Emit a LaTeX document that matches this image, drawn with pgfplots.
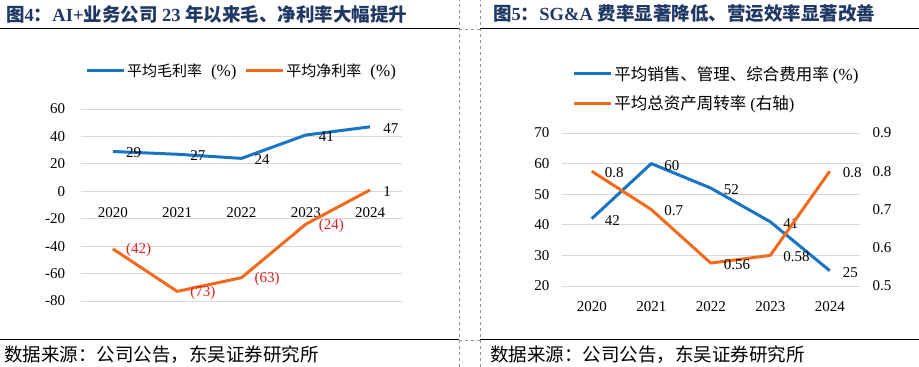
\documentclass[border=0pt]{standalone}
\usepackage{pgfplots}
\pgfplotsset{compat=1.18}
\usepackage{pgfplotstable}
\usepackage{fontspec}
\setmainfont{Liberation Serif}
\newfontfamily\cjk{Noto Sans CJK SC}
\definecolor{lblue}{RGB}{24,116,197}
\definecolor{lorange}{RGB}{242,106,27}
\definecolor{lred}{RGB}{224,32,31}
\definecolor{navy}{RGB}{32,56,100}
\definecolor{gridgray}{RGB}{217,217,217}
\definecolor{dashgray}{RGB}{150,150,150}

\pgfplotstableread{
x y lab
0 29 29
1 27 27
2 24 24
3 41 41
4 47 47
}\gross
\pgfplotstableread{
x y lab
0 -42 (42)
1 -73 (73)
2 -63 (63)
3 -24 (24)
4 1 1
}\net
\pgfplotstableread{
x y lab
0 42 42
1 60 60
2 52 52
3 41 41
4 25 25
}\sga
\pgfplotstableread{
x y lab
0 0.80 0.8
1 0.70 0.7
2 0.56 0.56
3 0.58 0.58
4 0.80 0.8
}\turn

\pgfplotsset{
  lbl/.style={every node near coord/.append style={anchor=west, xshift=12pt, yshift=-1.5pt, inner sep=1pt, font=\fontsize{15}{15}\selectfont, text=black}},
  common/.style={
    scale only axis, clip=false,
    xmin=-0.5, xmax=4.5,
    xtick={0,1,2,3,4}, xticklabels={2020,2021,2022,2023,2024},
    axis line style={draw=none},
    major tick length=0pt,
    tick label style={font=\fontsize{15}{15}\selectfont},
    /pgf/number format/assume math mode=true,
    legend image code/.code={\draw[##1, line width=3pt] (0pt,0pt) -- (37pt,0pt);},
  },
}

\begin{document}
\begin{tikzpicture}[x=1pt,y=1pt]
\useasboundingbox (0pt,0pt) rectangle (919pt,367pt);

% frame lines
\draw[dashgray, dashed, line width=0.6pt] (459,0) -- (459,367);
\draw[dashgray, dashed, line width=0.6pt] (480,0) -- (480,367);
\draw[black, line width=1pt] (0,338) -- (459,338);
\draw[black, line width=1pt] (480,338) -- (919,338);
\draw[dashgray, dashed, line width=0.6pt] (459,338) -- (480,338);
\draw[black, line width=1pt] (0,27) -- (459,27);
\draw[black, line width=1pt] (480,27) -- (919,27);
\draw[dashgray, dashed, line width=0.6pt] (459,27) -- (480,27);

% titles
\node[anchor=west, text=navy, font=\fontsize{18.5}{18.5}\selectfont\bfseries, inner sep=0pt] at (6,353)
  {{\cjk 图}4{\cjk ：}AI+{\cjk 业务公司} 23 {\cjk 年以来毛、净利率大幅提升}};
\node[anchor=west, text=navy, font=\fontsize{18.5}{18.5}\selectfont\bfseries, inner sep=0pt] at (493,353)
  {{\cjk 图}5{\cjk ：}SG\&A {\cjk 费率显著降低、营运效率显著改善}};

% sources
\node[anchor=west, font=\fontsize{18.5}{18.5}\selectfont\cjk, inner sep=0pt] at (4,12) {数据来源：公司公告，东吴证券研究所};
\node[anchor=west, font=\fontsize{18.5}{18.5}\selectfont\cjk, inner sep=0pt] at (490,12) {数据来源：公司公告，东吴证券研究所};

% ---------- left chart ----------
\begin{axis}[common,
  at={(80.75pt,66pt)}, anchor=south west,
  width=321.5pt, height=192pt,
  ymin=-80, ymax=60, ytick={-80,-60,...,60},
  axis x line*=middle, axis y line*=left,
  axis line style={draw=none},
  ymajorgrids, grid style={gridgray, line width=0.8pt},
  yticklabel style={xshift=-12pt},
  xticklabel style={yshift=-13pt},
  legend columns=2,
  legend style={draw=none, fill=none, at={(0.5,1.198)}, anchor=center,
    font=\fontsize{15}{15}\selectfont, inner sep=0pt,
    /tikz/every even column/.append style={column sep=6pt}},
]
\addplot[lblue, line width=3pt, line join=round, mark=none] table[x=x,y=y] {\gross};
\addlegendentry{{\cjk 平均毛利率}\hspace{9pt}{\fontsize{17}{17}\selectfont(\%)}}
\addplot[lorange, line width=3pt, line join=round, mark=none] table[x=x,y=y] {\net};
\addlegendentry{{\cjk 平均净利率}\hspace{9pt}{\fontsize{17}{17}\selectfont(\%)}}
\addplot[draw=none, mark=none, forget plot, lbl, nodes near coords, point meta=explicit symbolic]
  table[x=x,y=y,meta=lab] {\gross};
\addplot[draw=none, mark=none, forget plot, lbl, nodes near coords, point meta=explicit symbolic,
  every node near coord/.append style={text=lred}]
  table[x=x,y=y,meta=lab] {
x y lab
0 -42 (42)
1 -73 (73)
2 -63 (63)
3 -24 (24)
};
\addplot[draw=none, mark=none, forget plot, lbl, nodes near coords, point meta=explicit symbolic]
  table[x=x,y=y,meta=lab] {
x y lab
4 1 1
};
\end{axis}

% ---------- right chart ----------
\begin{axis}[common,
  at={(562pt,81pt)}, anchor=south west,
  width=297.5pt, height=153pt,
  ymin=20, ymax=70, ytick={20,30,...,70},
  axis x line*=bottom, axis y line*=left,
  axis line style={draw=none},
  ymajorgrids, grid style={gridgray, line width=0.8pt},
  yticklabel style={xshift=-9pt},
  xticklabel style={yshift=-12pt},
]
\addplot[lblue, line width=3pt, line join=round, mark=none] table[x=x,y=y] {\sga};
\addplot[draw=none, mark=none, forget plot, lbl, nodes near coords, point meta=explicit symbolic]
  table[x=x,y=y,meta=lab] {\sga};
\end{axis}
\begin{axis}[common,
  at={(562pt,81pt)}, anchor=south west,
  width=297.5pt, height=153pt,
  ymin=0.5, ymax=0.9, ytick={0.5,0.6,0.7,0.8,0.9},
  yticklabels={0.5,0.6,0.7,0.8,0.9},
  axis x line=none, axis y line*=right,
  axis line style={draw=none},
  yticklabel style={xshift=9.5pt},
  legend columns=1,
  legend style={draw=none, fill=none, at={(0.034,1.451)}, anchor=north west,
    font=\fontsize{16.5}{16.5}\selectfont, inner sep=0pt, row sep=10pt, cells={anchor=west}},
]
\addlegendimage{lblue, line width=3pt}
\addlegendentry{{\cjk 平均销售、管理、综合费用率} {\fontsize{17}{17}\selectfont(\%)}}
\addplot[lorange, line width=3pt, line join=round, mark=none] table[x=x,y=y] {\turn};
\addlegendentry{{\cjk 平均总资产周转率} ({\cjk 右轴})}
\addplot[draw=none, mark=none, forget plot, lbl, nodes near coords, point meta=explicit symbolic]
  table[x=x,y=y,meta=lab] {\turn};
\end{axis}
\end{tikzpicture}
\end{document}
